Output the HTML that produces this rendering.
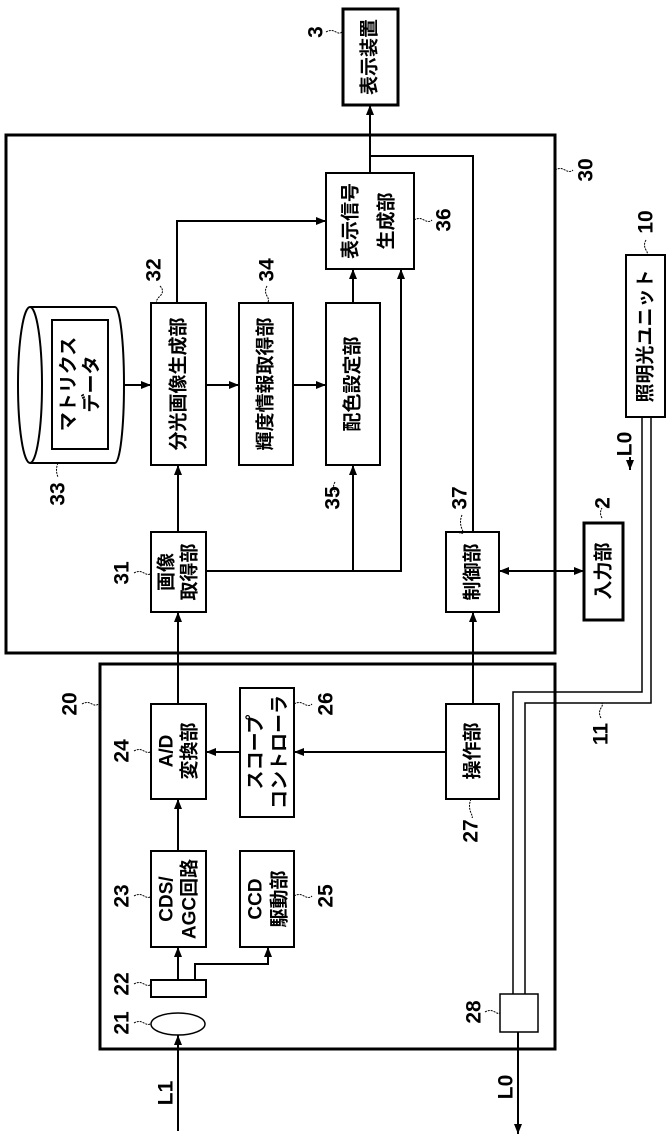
<!DOCTYPE html>
<html><head><meta charset="utf-8"><style>
html,body{margin:0;padding:0;background:#fff}
svg{display:block}
text{font-family:"Liberation Sans","Noto Sans CJK JP",sans-serif;fill:#000}
.b{font-size:19px;font-weight:bold}
.n{font-size:21px;font-weight:bold}
.t{font-size:19px;font-weight:600}
</style></head><body>
<svg width="669" height="1146" viewBox="0 0 669 1146" xmlns="http://www.w3.org/2000/svg">
<defs>
<marker id="a" viewBox="0 0 10 10" refX="10" refY="5" markerWidth="10" markerHeight="10" markerUnits="userSpaceOnUse" orient="auto-start-reverse"><path d="M0,1 L10,5 L0,9 Z" fill="#000"/></marker>
</defs>
<g fill="none" stroke="#000" stroke-width="2">
<rect x="6" y="135" width="549" height="518" stroke-width="3"/>
<rect x="100" y="664" width="455" height="385" stroke-width="3"/>
<rect x="343" y="9" width="55" height="96" stroke-width="3"/>
<rect x="584" y="523" width="39" height="97" stroke-width="3"/>
<rect x="626" y="255" width="39" height="162"/>
<rect x="326" y="173" width="88" height="96"/>
<rect x="151" y="303" width="55" height="162"/>
<rect x="239" y="303" width="54" height="162"/>
<rect x="326" y="303" width="54" height="162"/>
<rect x="151" y="532" width="55" height="80"/>
<rect x="446" y="532" width="53" height="80"/>
<rect x="151" y="704" width="55" height="95"/>
<rect x="240" y="688" width="54" height="129"/>
<rect x="446" y="704" width="53" height="95"/>
<rect x="151" y="851" width="55" height="96"/>
<rect x="240" y="851" width="54" height="96"/>
<rect x="151" y="980" width="55" height="17"/>
<rect x="500" y="994" width="38" height="38" stroke-width="1.5"/>
<ellipse cx="178" cy="1024" rx="27" ry="11" stroke-width="1.5"/>
<ellipse cx="30" cy="385" rx="12" ry="78"/>
<path d="M30 307 L115 307 A9 78 0 0 1 115 463 L30 463"/>
<rect x="52" y="320" width="56" height="129"/>
<line x1="124" y1="385" x2="151" y2="385" marker-end="url(#a)"/>
<line x1="206" y1="385" x2="239" y2="385" marker-end="url(#a)"/>
<line x1="293" y1="385" x2="326" y2="385" marker-end="url(#a)"/>
<polyline points="177,303 177,221 326,221" marker-end="url(#a)"/>
<line x1="353" y1="303" x2="353" y2="269" marker-end="url(#a)"/>
<line x1="370" y1="173" x2="370" y2="105" marker-end="url(#a)"/>
<polyline points="370,156 473,156 473,532"/>
<line x1="178" y1="532" x2="178" y2="465" marker-end="url(#a)"/>
<polyline points="206,571 401,571 401,269" marker-end="url(#a)"/>
<line x1="353" y1="571" x2="353" y2="465" marker-end="url(#a)"/>
<line x1="499" y1="571" x2="584" y2="571" marker-start="url(#a)" marker-end="url(#a)"/>
<line x1="178" y1="704" x2="178" y2="612" marker-end="url(#a)"/>
<line x1="473" y1="704" x2="473" y2="612" marker-end="url(#a)"/>
<line x1="446" y1="752" x2="294" y2="752" marker-end="url(#a)"/>
<line x1="240" y1="752" x2="206" y2="752" marker-end="url(#a)"/>
<line x1="178" y1="851" x2="178" y2="799" marker-end="url(#a)"/>
<line x1="178" y1="980" x2="178" y2="947" marker-end="url(#a)"/>
<polyline points="195,980 195,964 268,964 268,947" marker-end="url(#a)"/>
<line x1="178" y1="1131" x2="178" y2="1035" marker-end="url(#a)"/>
<line x1="518" y1="1032" x2="518" y2="1134" marker-end="url(#a)"/>
<line x1="630" y1="457" x2="630" y2="470" marker-end="url(#a)"/>
<polyline points="642,417 642,692 513,692 513,994" stroke-width="1.5"/>
<polyline points="651,417 651,703 525,703 525,994" stroke-width="1.5"/>
</g>
<g stroke="#000" stroke-width="1" fill="none" stroke-dasharray="2,1">
<path d="M326,32 q5,-3 10,0 t7,-2"/>
<path d="M414,220 q5,-3 10,0 t8,0"/>
<path d="M555,170 q5,-3 10,0 t8,0"/>
<path d="M646,240 q-3,5 0,10 t0,5"/>
<path d="M160,286 q5,5 0,10 t-3,7"/>
<path d="M267,286 q-3,5 0,10 t0,7"/>
<path d="M58,463 q-3,7 0,14"/>
<path d="M335,482 q-3,5 0,10"/>
<path d="M462,515 q-3,7 0,14 t-4,3"/>
<path d="M602,518 q-3,-5 0,-10"/>
<path d="M134,573 q5,-3 10,0 t7,0"/>
<path d="M82,704 q5,-3 10,0 t8,-2"/>
<path d="M134,751 q5,-3 10,0 t7,0"/>
<path d="M294,704 q5,-3 10,0 t8,0"/>
<path d="M471,799 q-3,7 0,14 t0,3"/>
<path d="M134,896 q5,-3 10,0 t7,0"/>
<path d="M294,896 q5,-3 10,0 t8,0"/>
<path d="M134,984 q5,-3 10,0 t7,0"/>
<path d="M134,1023 q5,-3 10,0 t7,0"/>
<path d="M485,1012 q5,-3 10,0 t5,0"/>
<path d="M601,718 q-3,-5 0,-10 t0,-5"/>
</g>
<g text-anchor="middle" dominant-baseline="central">
<text class="b" transform="translate(370,57) rotate(-90)">表示装置</text>
<text class="t" transform="translate(351,221) rotate(-90)">表示信号</text>
<text class="t" transform="translate(387,221) rotate(-90)">生成部</text>
<text class="t" transform="translate(179,384) rotate(-90)">分光画像生成部</text>
<text class="t" transform="translate(266,384) rotate(-90)">輝度情報取得部</text>
<text class="t" transform="translate(353,384) rotate(-90)">配色設定部</text>
<text class="t" transform="translate(69,384) rotate(-90)">マトリクス</text>
<text class="t" transform="translate(92,384) rotate(-90)">データ</text>
<text class="t" transform="translate(167,572) rotate(-90)">画像</text>
<text class="t" transform="translate(190,572) rotate(-90)">取得部</text>
<text class="t" transform="translate(473,572) rotate(-90)">制御部</text>
<text class="t" transform="translate(604,571) rotate(-90)">入力部</text>
<text class="t" transform="translate(646,336) rotate(-90)">照明光ユニット</text>
<text class="t" transform="translate(167,751) rotate(-90)">A/D</text>
<text class="t" transform="translate(190,751) rotate(-90)">変換部</text>
<text class="t" transform="translate(256,752) rotate(-90)">スコープ</text>
<text class="t" transform="translate(280,752) rotate(-90)">コントローラ</text>
<text class="t" transform="translate(473,751) rotate(-90)">操作部</text>
<text class="t" transform="translate(167,899) rotate(-90)">CDS/</text>
<text class="t" transform="translate(190,899) rotate(-90)">AGC回路</text>
<text class="t" transform="translate(256,899) rotate(-90)">CCD</text>
<text class="t" transform="translate(280,899) rotate(-90)">駆動部</text>
<text class="n" transform="translate(316,32) rotate(-90)">3</text>
<text class="n" transform="translate(444,220) rotate(-90)">36</text>
<text class="n" transform="translate(586,170) rotate(-90)">30</text>
<text class="n" transform="translate(646,222) rotate(-90)">10</text>
<text class="n" transform="translate(154,270) rotate(-90)">32</text>
<text class="n" transform="translate(267,270) rotate(-90)">34</text>
<text class="n" transform="translate(58,494) rotate(-90)">33</text>
<text class="n" transform="translate(333,498) rotate(-90)">35</text>
<text class="n" transform="translate(460,498) rotate(-90)">37</text>
<text class="n" transform="translate(603,503) rotate(-90)">2</text>
<text class="n" transform="translate(625,444) rotate(-90)">L0</text>
<text class="n" transform="translate(122,573) rotate(-90)">31</text>
<text class="n" transform="translate(70,704) rotate(-90)">20</text>
<text class="n" transform="translate(122,751) rotate(-90)">24</text>
<text class="n" transform="translate(326,704) rotate(-90)">26</text>
<text class="n" transform="translate(471,831) rotate(-90)">27</text>
<text class="n" transform="translate(601,734) rotate(-90)">11</text>
<text class="n" transform="translate(122,896) rotate(-90)">23</text>
<text class="n" transform="translate(326,896) rotate(-90)">25</text>
<text class="n" transform="translate(122,984) rotate(-90)">22</text>
<text class="n" transform="translate(122,1023) rotate(-90)">21</text>
<text class="n" transform="translate(474,1012) rotate(-90)">28</text>
<text class="n" transform="translate(166,1093) rotate(-90)">L1</text>
<text class="n" transform="translate(506,1087) rotate(-90)">L0</text>
</g>
</svg>
</body></html>
